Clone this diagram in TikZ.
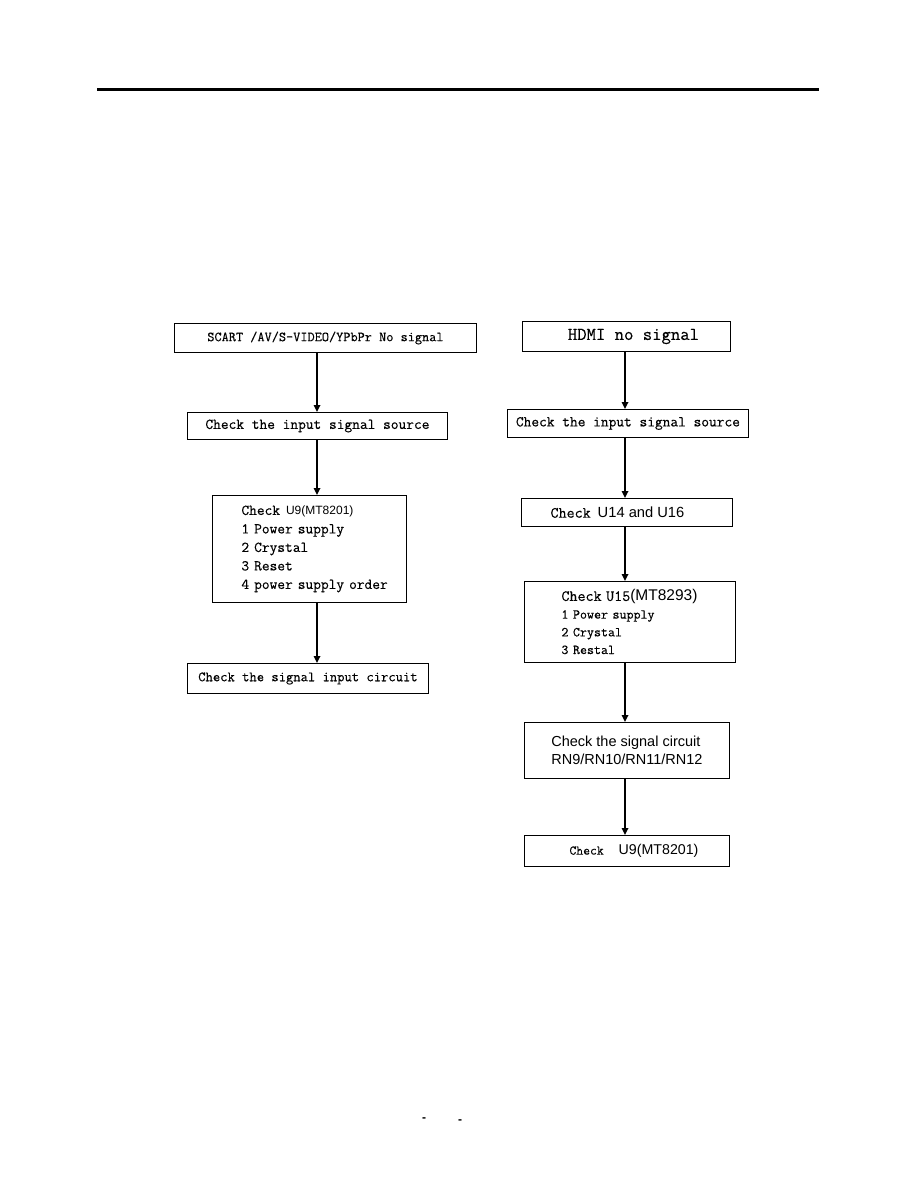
\documentclass[tikz,border=0pt]{standalone}
\usepackage{fontspec}
\newfontfamily\sansf{Liberation Sans}
\newfontfamily\monof{lmmono12-regular.otf}[FakeBold=0.35]
\usetikzlibrary{arrows.meta}
\newcommand{\fs}[2]{\fontsize{#1}{#2}\selectfont}
\tikzset{
  box/.style={draw, line width=0.9pt, inner sep=0pt, anchor=north west},
  arr/.style={line width=1.6pt, -{Triangle[length=7pt,width=6.5pt]}},
}
\begin{document}
\begin{tikzpicture}[x=1pt,y=-1pt]
\useasboundingbox (0,0) rectangle (918,1188);
\fill[white] (0,0) rectangle (918,1188);
\draw[line width=3pt] (97,90) -- (819,90);
\coordinate (xl) at (317,0);
\coordinate (xr) at (625,0);
% left column
\node[box, minimum width=302pt, minimum height=29pt, font=\monof\fs{13.9}{16}] (a) at (174,323) {SCART /AV/S-VIDEO/YPbPr No signal};
\node[box, minimum width=260pt, minimum height=27pt, font=\monof\fs{15}{18}] (b) at (187,412) {Check the input signal source};
\node[box, minimum width=194pt, minimum height=107pt, text width=136pt, inner xsep=29pt, align=left, font=\monof\fs{15}{18.5}] (c) at (212,495)
 {\mbox{Check\hspace{6pt}{\sansf\fs{12}{18.5}U9(MT8201)}}\\
  \mbox{1 Power supply}\\ \mbox{2 Crystal}\\ \mbox{3 Reset}\\ \mbox{4 power supply order}};
\node[box, minimum width=241pt, minimum height=30pt, font=\monof\fs{14.2}{17}] (d) at (187,663) {Check the signal input circuit};
\draw[arr] (a.south -| xl) -- (b.north -| xl);
\draw[arr] (b.south -| xl) -- (c.north -| xl);
\draw[arr] (c.south -| xl) -- (d.north -| xl);
% right column
\node[box, minimum width=208pt, minimum height=30pt, font=\monof\fs{18.2}{20}] (e) at (522,321) {\hspace*{14pt}HDMI no signal};
\node[box, minimum width=241pt, minimum height=28pt, font=\monof\fs{15}{18}] (f) at (507,409) {Check the input signal source};
\node[box, minimum width=211pt, minimum height=28pt, font=\monof\fs{15.6}{18}] (g) at (521,498) {Check\hspace{7pt}{\sansf\fs{14.7}{18}U14 and U16}\hspace*{19pt}};
\node[box, minimum width=211pt, minimum height=81pt, text width=137pt, inner xsep=37pt, align=left, font=\monof\fs{13.6}{17.7}] (h) at (524,581)
 {\mbox{{\fs{15.6}{17.7}Check U15}{\sansf\fs{15.5}{17.7}(MT8293)}}\\
  \mbox{1 Power supply}\\ \mbox{2 Crystal}\\ \mbox{3 Restal}};
\node[box, minimum width=205pt, minimum height=56pt, align=left, font=\sansf\fs{14.5}{18.5}] (i) at (524,722)
 {Check the signal circuit\\RN9/RN10/RN11/RN12};
\node[box, minimum width=205pt, minimum height=31pt, font=\monof\fs{13.3}{16}] (j) at (524,835) {\hspace*{14pt}Check\hspace{15pt}{\sansf\fs{14.2}{16}U9(MT8201)}};
\draw[arr] (e.south -| xr) -- (f.north -| xr);
\draw[arr] (f.south -| xr) -- (g.north -| xr);
\draw[arr] (g.south -| xr) -- (h.north -| xr);
\draw[arr] (h.south -| xr) -- (i.north -| xr);
\draw[arr] (i.south -| xr) -- (j.north -| xr);
% page marks
\node[font=\sansf\bfseries\fs{12}{12}] (p1) at (424,1120) {-};
\node[font=\sansf\bfseries\fs{12}{12}] (p2) at (460,1122) {-};
\end{tikzpicture}
\end{document}
